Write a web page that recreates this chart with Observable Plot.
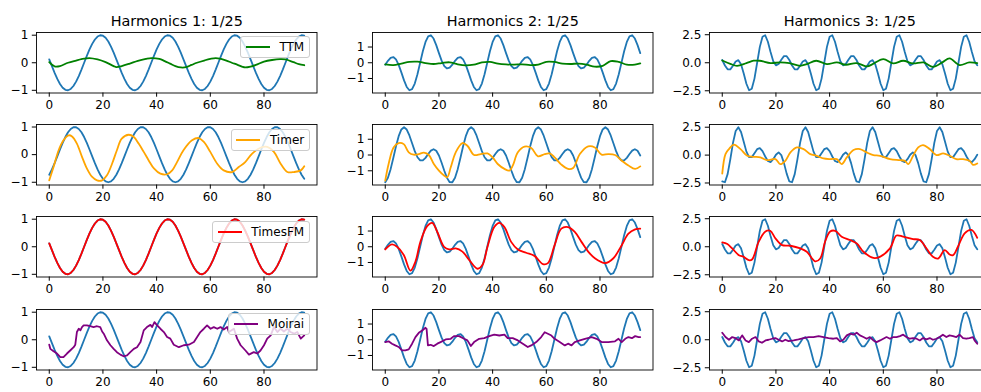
<!DOCTYPE html>
<html><head><meta charset="utf-8">
<script src="https://cdn.jsdelivr.net/npm/d3@7"></script>
<script src="https://cdn.jsdelivr.net/npm/@observablehq/plot@0.6"></script>
<style>
body{margin:0;background:#fff;}
#fig{position:relative;width:981px;height:392px;overflow:hidden;background:#fff;font-family:"DejaVu Sans",sans-serif;}
.legend{position:absolute;display:flex;align-items:center;box-sizing:border-box;height:22px;padding:0 4.8px;border:1px solid #cccccc;border-radius:3px;background:rgba(255,255,255,0.8);font-size:12px;color:#000;white-space:nowrap;}
.legend .swatch{display:inline-block;width:24px;height:2px;margin-right:9.6px;}
</style></head><body><div id="fig"></div>
<script>
const xTicks=[0,20,40,60,80];
const colTitles=["Harmonics 1: 1/25","Harmonics 2: 1/25","Harmonics 3: 1/25"];
const models=["TTM","Timer","TimesFM","Moirai"];
const modelColors=["green","orange","red","purple"];
const truthColor="#1f77b4";
const yTicksByCol=[[-1,0,1],[-1,0,1],[-2.5,0,2.5]];

// ground truth, window used in rows TTM / TimesFM / Moirai
const truthH1A=[
0.125,-0.125,-0.368,-0.588,-0.771,-0.905,-0.982,-0.998,-0.951,-0.844,-0.685,-0.482,-0.249,0,0.249,0.482,0.685,0.844,0.951,0.998,0.982,0.905,0.771,0.588,0.368,
0.125,-0.125,-0.368,-0.588,-0.771,-0.905,-0.982,-0.998,-0.951,-0.844,-0.685,-0.482,-0.249,0,0.249,0.482,0.685,0.844,0.951,0.998,0.982,0.905,0.771,0.588,0.368,
0.125,-0.125,-0.368,-0.588,-0.771,-0.905,-0.982,-0.998,-0.951,-0.844,-0.685,-0.482,-0.249,0,0.249,0.482,0.685,0.844,0.951,0.998,0.982,0.905,0.771,0.588,0.368,
0.125,-0.125,-0.368,-0.588,-0.771,-0.905,-0.982,-0.998,-0.951,-0.844,-0.685,-0.482,-0.249,0,0.249,0.482,0.685,0.844,0.951,0.998,0.982];
const truthH2A=[
-0.123,0.123,0.316,0.363,0.212,-0.134,-0.614,-1.123,-1.539,-1.749,-1.683,-1.326,-0.731,0,0.731,1.326,1.683,1.749,1.539,1.123,0.614,0.134,-0.212,-0.363,-0.316,
-0.123,0.123,0.316,0.363,0.212,-0.134,-0.614,-1.123,-1.539,-1.749,-1.683,-1.326,-0.731,0,0.731,1.326,1.683,1.749,1.539,1.123,0.614,0.134,-0.212,-0.363,-0.316,
-0.123,0.123,0.316,0.363,0.212,-0.134,-0.614,-1.123,-1.539,-1.749,-1.683,-1.326,-0.731,0,0.731,1.326,1.683,1.749,1.539,1.123,0.614,0.134,-0.212,-0.363,-0.316,
-0.123,0.123,0.316,0.363,0.212,-0.134,-0.614,-1.123,-1.539,-1.749,-1.683,-1.326,-0.731,0,0.731,1.326,1.683,1.749,1.539,1.123,0.614];
const truthH3A=[
0.245,-0.245,-0.588,-0.588,-0.270,0.114,0.230,-0.141,-0.951,-1.874,-2.453,-2.324,-1.415,0,1.415,2.324,2.453,1.874,0.951,0.141,-0.230,-0.114,0.270,0.588,0.588,
0.245,-0.245,-0.588,-0.588,-0.270,0.114,0.230,-0.141,-0.951,-1.874,-2.453,-2.324,-1.415,0,1.415,2.324,2.453,1.874,0.951,0.141,-0.230,-0.114,0.270,0.588,0.588,
0.245,-0.245,-0.588,-0.588,-0.270,0.114,0.230,-0.141,-0.951,-1.874,-2.453,-2.324,-1.415,0,1.415,2.324,2.453,1.874,0.951,0.141,-0.230,-0.114,0.270,0.588,0.588,
0.245,-0.245,-0.588,-0.588,-0.270,0.114,0.230,-0.141,-0.951,-1.874,-2.453,-2.324,-1.415,0,1.415,2.324,2.453,1.874,0.951,0.141,-0.230];
// ground truth, window used in the Timer row
const truthH1B=[
-0.729,-0.536,-0.309,-0.063,0.187,0.426,0.637,0.809,0.930,0.992,0.992,0.930,0.809,0.637,0.426,0.187,-0.063,-0.309,-0.536,-0.729,-0.876,-0.969,-1.0,-0.969,-0.876,
-0.729,-0.536,-0.309,-0.063,0.187,0.426,0.637,0.809,0.930,0.992,0.992,0.930,0.809,0.637,0.426,0.187,-0.063,-0.309,-0.536,-0.729,-0.876,-0.969,-1.0,-0.969,-0.876,
-0.729,-0.536,-0.309,-0.063,0.187,0.426,0.637,0.809,0.930,0.992,0.992,0.930,0.809,0.637,0.426,0.187,-0.063,-0.309,-0.536,-0.729,-0.876,-0.969,-1.0,-0.969,-0.876,
-0.729,-0.536,-0.309,-0.063,0.187,0.426,0.637,0.809,0.930,0.992,0.992,0.930,0.809,0.637,0.426,0.187,-0.063,-0.309,-0.536,-0.729,-0.876];
const truthH2B=[
-1.727,-1.441,-0.897,-0.188,0.556,1.196,1.620,1.760,1.614,1.241,0.743,0.245,-0.142,-0.345,-0.345,-0.181,0.063,0.279,0.369,0.269,-0.032,-0.487,-1.0,-1.450,-1.721,
-1.727,-1.441,-0.897,-0.188,0.556,1.196,1.620,1.760,1.614,1.241,0.743,0.245,-0.142,-0.345,-0.345,-0.181,0.063,0.279,0.369,0.269,-0.032,-0.487,-1.0,-1.450,-1.721,
-1.727,-1.441,-0.897,-0.188,0.556,1.196,1.620,1.760,1.614,1.241,0.743,0.245,-0.142,-0.345,-0.345,-0.181,0.063,0.279,0.369,0.269,-0.032,-0.487,-1.0,-1.450,-1.721,
-1.727,-1.441,-0.897,-0.188,0.556,1.196,1.620,1.760,1.614,1.241,0.743,0.245,-0.142,-0.345,-0.345,-0.181,0.063,0.279,0.369,0.269,-0.032];
const truthH3B=[
-2.364,-2.433,-1.706,-0.375,1.092,2.165,2.496,2.069,1.188,0.311,-0.187,-0.181,0.167,0.531,0.624,0.355,-0.124,-0.530,-0.623,-0.368,0.031,0.242,0.0,-0.721,-1.658,
-2.364,-2.433,-1.706,-0.375,1.092,2.165,2.496,2.069,1.188,0.311,-0.187,-0.181,0.167,0.531,0.624,0.355,-0.124,-0.530,-0.623,-0.368,0.031,0.242,0.0,-0.721,-1.658,
-2.364,-2.433,-1.706,-0.375,1.092,2.165,2.496,2.069,1.188,0.311,-0.187,-0.181,0.167,0.531,0.624,0.355,-0.124,-0.530,-0.623,-0.368,0.031,0.242,0.0,-0.721,-1.658,
-2.364,-2.433,-1.706,-0.375,1.092,2.165,2.496,2.069,1.188,0.311,-0.187,-0.181,0.167,0.531,0.624,0.355,-0.124,-0.530,-0.623,-0.368,0.031];

// predictions (t = time step, y = value)
const ttm1T=[0,2,4,7,10,12,15,18,21,24,25,27,30,33,36,38,41,43,45,47,49,51,53,55,58,60,62,64,66,68,70,72,73,75,77,80,83,86,88,91,93,95];
const ttm1Y=[0.02,-0.13,-0.12,0.0,0.08,0.13,0.17,0.12,0.02,-0.12,-0.16,-0.12,-0.03,0.07,0.14,0.17,0.14,0.06,-0.03,-0.12,-0.17,-0.16,-0.08,0.0,0.09,0.14,0.17,0.14,0.08,0.0,-0.07,-0.15,-0.17,-0.14,-0.08,0.04,0.1,0.13,0.12,0.02,-0.05,-0.09];
const ttm2T=[0,3,6,9,12,15,18,21,24,27,30,33,36,39,42,45,48,51,54,57,60,63,66,69,72,75,78,81,84,87,90,93,95];
const ttm2Y=[-0.1,-0.15,-0.05,0.06,0.07,-0.02,-0.08,-0.02,0.03,-0.1,-0.17,-0.12,0.02,0.05,-0.05,-0.1,-0.12,-0.1,-0.15,-0.12,0.06,0.05,-0.05,-0.08,-0.05,-0.12,-0.25,-0.2,0.1,0.05,-0.12,-0.12,-0.04];
const ttm3T=[0,3,5.5,9,11.7,14,18,21.6,25,29,31.5,35,39,42.7,46,50,54,56,60,63.7,67.4,71,75,78.5,82,84.7,88.4,92,95];
const ttm3Y=[0.2,-0.1,-0.27,-0.03,0.18,0.18,-0.03,0.03,-0.03,-0.27,-0.12,0.18,-0.12,0.03,-0.18,-0.03,-0.33,-0.12,0.33,-0.06,0.18,-0.06,0.03,-0.36,0.03,0.39,-0.21,0.03,-0.03];

const timer1T=[0,1.6,3.5,5.3,7.2,8.5,10.3,12.2,14,15.9,17.8,19.7,21.5,23.4,25.2,27,29.6,31.5,33.3,35.2,37,39,41.4,43.9,45.8,47.6,50,53.2,55.7,57.6,60,62.6,65,68.1,70.6,73,75.6,78.7,81.2,83.7,86.2,88.7,91.2,93.7,95];
const timer1Y=[-0.93,-0.45,0.16,0.52,0.7,0.66,0.4,-0.08,-0.5,-0.8,-0.93,-0.93,-0.75,-0.33,0.16,0.58,0.72,0.64,0.4,0.1,-0.2,-0.5,-0.69,-0.71,-0.57,-0.27,0.16,0.52,0.6,0.46,0.1,-0.33,-0.57,-0.63,-0.45,-0.27,0.04,0.25,0.28,0.1,-0.33,-0.63,-0.63,-0.57,-0.42];
const timer2T=[0,1.25,3.1,5,6.9,8.75,10.6,12.5,14.4,16.25,18.1,20,21.9,23.1,24.4,26.25,28.75,30.6,33.1,35.6,38.1,40,41.9,44.4,46.25,47.5,49.4,51.9,54.4,56.9,59.4,61.25,63.1,65.6,68.1,70,72.5,75.6,78.1,80.6,83.1,85.6,88.1,90.6,93.1,95];
const timer2Y=[-1.62,-0.57,0.48,0.76,0.69,0.17,0.02,0.06,0.15,0,-0.57,-0.99,-1.3,-1.41,-0.78,0.17,0.76,0.59,0,0.06,0.1,-0.15,-0.57,-0.88,-0.99,-0.67,0.17,0.53,0.44,-0.08,0.06,0.1,-0.15,-0.61,-0.88,-0.82,0.06,0.55,0.48,0.02,0.06,0,-0.36,-0.67,-0.88,-0.72];
const timer3T=[0,1.2,2.5,4.3,6.8,9.3,11.7,14.2,16.7,19.8,21.6,23.5,25.4,27.8,30.3,32.8,35.2,37.7,40.2,42.7,44.5,46.4,48.9,51.3,53.8,56.3,58.8,62.5,66.2,68,69.3,71.1,73,74.8,77.3,79.8,82.3,84.7,87.2,89.7,92.1,93.4,95];
const timer3Y=[-1.66,0.09,0.54,0.93,0.54,-0.06,-0.15,-0.21,-0.45,-0.36,-0.81,-0.51,0.24,0.69,0.54,0.09,-0.06,-0.3,-0.36,-0.36,-0.81,-0.21,0.45,0.54,0.24,0,-0.06,-0.36,-0.45,-0.51,-0.81,-0.06,0.69,0.9,0.54,0,0.15,-0.06,-0.36,-0.36,-0.51,-0.87,-0.75];

const timesfm1T=null;
const timesfm1Y=[
0.125,-0.125,-0.368,-0.588,-0.771,-0.905,-0.982,-0.998,-0.951,-0.844,-0.685,-0.482,-0.249,0,0.249,0.482,0.685,0.844,0.951,0.998,0.982,0.905,0.771,0.588,0.368,
0.125,-0.125,-0.368,-0.588,-0.771,-0.905,-0.982,-0.998,-0.951,-0.844,-0.685,-0.482,-0.249,0,0.249,0.482,0.685,0.844,0.951,0.998,0.982,0.905,0.771,0.588,0.368,
0.125,-0.125,-0.368,-0.588,-0.771,-0.905,-0.982,-0.998,-0.951,-0.844,-0.685,-0.482,-0.249,0,0.249,0.482,0.685,0.844,0.951,0.998,0.982,0.905,0.771,0.588,0.368,
0.125,-0.125,-0.368,-0.588,-0.771,-0.905,-0.982,-0.998,-0.951,-0.844,-0.685,-0.482,-0.249,0,0.249,0.482,0.685,0.844,0.951,0.998,0.982];
const timesfm2T=[0,2.5,4.4,6.9,9.4,11.25,13.1,15.6,17.5,19.4,21.9,23.75,26.25,28.75,31.25,34.4,36.25,38.1,40.6,42.5,44.4,46.9,49.4,52.5,55.6,58.75,60.6,63.1,65.6,68.1,70.6,73.1,75.6,78.1,81.9,85,88.1,90.6,93.1,95];
const timesfm2Y=[-0.17,0.15,0,-0.52,-1.52,-0.94,0.31,1.31,1.52,0.94,0,-0.17,-0.1,-0.31,-0.83,-1.4,-1.15,0,1.25,1.52,1.25,0.31,-0.17,-0.38,-0.58,-1.1,-1.04,0.1,1.15,1.25,0.94,0.31,-0.31,-0.73,-1.04,-0.73,0.1,0.83,1.1,1.15];
const timesfm3T=[0,1.9,3.7,6.2,8,9.9,11.1,13.6,16.1,17.9,19.8,22.3,25.4,29.1,31.5,34.6,36.5,38.3,40.2,42.1,44.5,47.6,50.1,52.6,56.3,58.7,62.5,64.9,67.4,71.1,73.6,76.1,78.5,80.4,82.9,84.7,86,87.8,90.3,92.8,95];
const timesfm3Y=[0.39,0.24,-0.15,-0.75,-0.9,-1.2,-1.14,0.45,1.36,1.42,0.75,0.15,0.09,-0.15,-0.45,-1.3,-1.05,0.45,1.36,1.42,0.9,0.6,0.3,-0.45,-1.0,-0.9,-0.15,1.0,0.9,0.69,0.6,-0.15,-0.9,-1.05,-0.3,-0.69,-0.75,0,1.2,1.5,0.8];

const moirai1T=[0,0.4,1.6,2.9,4.1,5.3,6.6,7.8,9.1,9.7,10.3,11,11.6,12.2,12.8,14,15.3,16.5,17.8,19,19.7,20.3,21.5,22.8,24,25.2,26.5,27.7,29,30.2,31.5,32.7,34,35.2,36.4,37.7,38.3,39.2,40.2,41.4,42.7,43.9,45.1,46.4,48.3,50.1,52,53.9,55.1,56.3,57.6,58.8,60.1,61.3,62.6,63.8,65,66.3,66.9,68.8,70,71.3,73.1,74.4,76.2,77.5,78.7,80,81.2,82.5,83.7,85,86.2,87.4,88.7,89.9,91.2,92.4,93.7,95];
const moirai1Y=[-0.18,-0.33,-0.42,-0.5,-0.63,-0.63,-0.5,-0.39,-0.27,-0.18,0.28,0.4,0.34,0.46,0.52,0.52,0.49,0.46,0.49,0.46,0.3,0.22,-0.02,-0.2,-0.33,-0.45,-0.54,-0.6,-0.57,-0.45,-0.33,-0.27,-0.08,0.34,0.46,0.54,0.46,0.64,0.52,0.4,0.28,0.1,0.04,-0.18,-0.27,-0.2,-0.18,-0.08,0.1,0.28,0.4,0.52,0.4,0.46,0.4,0.46,0.37,0.46,0.28,0.4,0.04,-0.2,-0.39,-0.54,-0.45,-0.5,-0.39,-0.2,0.04,0.16,0.46,0.28,0.4,0.3,0.4,0.28,0.22,0.28,0.04,0.16];
const moirai2T=[0,1.25,2.5,3.75,5,6.25,7.5,8.75,10,11.25,12.5,13.75,15,15.4,15.9,16.9,18.1,19.4,20.6,22.5,24.4,25.6,27.5,29.4,30.6,31.9,33.1,35,36.9,38.75,40.6,42.5,44.4,45.6,47.5,49.4,51.25,53.1,54.4,56.25,58.1,59.4,60.6,61.9,63.1,65,66.9,68.1,69.4,70.6,72.5,74.4,76.9,78.75,80.6,83.1,85.6,86.9,88.1,89.4,90.6,91.9,93.1,94.4,95];
const moirai2Y=[-0.15,-0.1,-0.25,-0.36,-0.46,-0.67,-0.67,-0.61,-0.25,0.17,0.44,0.59,0.76,0.69,-0.36,-0.32,-0.4,-0.25,-0.15,0.02,0.06,0.23,0.23,0.06,-0.04,-0.4,-0.15,0.06,0.1,0.23,0.32,0.27,0.32,0.1,0.1,-0.04,-0.25,-0.46,-0.36,-0.15,0.17,0.48,0.38,0.27,0.06,-0.15,-0.36,-0.25,-0.36,-0.15,-0.04,0.06,0.17,0.06,-0.15,-0.15,-0.1,0.06,-0.15,0.06,0.17,0.1,0.23,0.17,0.17];
const moirai3T=[0,1.2,2.5,3.7,4.9,6.2,7.4,8.7,9.9,11.1,12.4,13.6,14.8,16.1,17.3,18.6,19.8,21,22.3,23.5,24.7,26.6,28.4,30.3,32.2,34,35.9,37.7,39.6,41.4,42.7,43.9,45.1,46.4,47.6,48.9,50.1,51.3,52.6,53.8,55,56.3,57.5,58.8,60,61.2,62.5,63.7,64.9,66.2,67.4,68.6,69.9,71.1,72.4,73.6,74.8,76.1,77.3,78.5,79.8,81,82.2,83.5,84.7,86,87.2,88.4,89.7,90.9,92.1,93.4,94,95];
const moirai3Y=[0.63,0.24,0,0.24,0.15,-0.06,0.39,-0.06,-0.21,0.09,0.24,-0.15,-0.27,-0.06,0,0.09,0.15,0,-0.15,0,-0.12,-0.06,0.03,0.15,0.24,0.24,0.33,0.24,0.15,0.09,0.15,-0.15,0,0.39,0.54,0.45,0.63,0.39,0.24,0.09,0.24,-0.06,-0.21,-0.06,0.09,0.24,0.09,0.24,0.24,0.33,0.45,0.24,0.09,0.15,0.09,-0.06,0.15,0.03,0.15,0,0.09,0.24,0.45,0.24,0.39,0.33,0.24,0.45,0.15,0.09,0.15,0.24,-0.06,-0.36];

// assemble
const truthA=[truthH1A,truthH2A,truthH3A], truthB=[truthH1B,truthH2B,truthH3B];
const preds=[
  [[ttm1T,ttm1Y],[ttm2T,ttm2Y],[ttm3T,ttm3Y]],
  [[timer1T,timer1Y],[timer2T,timer2Y],[timer3T,timer3Y]],
  [[timesfm1T,timesfm1Y],[timesfm2T,timesfm2Y],[timesfm3T,timesfm3Y]],
  [[moirai1T,moirai1Y],[moirai2T,moirai2Y],[moirai3T,moirai3Y]]
];

const W=280.5,H=60.5,ML=45,MR=5,MT=26,MB=24;
const axLeft=[35.5,372.3,709.3], axTop=[31.7,124.2,216.4,308.8];
const fig=document.getElementById("fig");
const minus=v=>(v<0?"\u2212":"");

for(let r=0;r<4;r++){
  for(let c=0;c<3;c++){
    const truth=r===1?truthB[c]:truthA[c];
    const [pt,py]=preds[r][c];
    const all=truth.concat(py);
    const lo=d3.min(all), hi=d3.max(all), pad=(hi-lo)*0.05;
    const fmt=c===2?(d=>minus(d)+Math.abs(d).toFixed(1)):(d=>minus(d)+Math.abs(d));
    const smooth=r<3 && pt!==null;
    const predMark=pt===null
      ? Plot.lineY(py,{stroke:modelColors[r],strokeWidth:1.8})
      : Plot.line(py,{x:pt,y:py,stroke:modelColors[r],strokeWidth:1.8,curve:smooth?"catmull-rom":"linear"});
    const marks=[
      Plot.lineY(truth,{stroke:truthColor,strokeWidth:1.8}),
      predMark,
      Plot.frame({stroke:"#000",strokeWidth:0.9}),
      Plot.axisX({ticks:xTicks,tickSize:4.2,tickPadding:3.5,tickFormat:d=>String(d),label:null}),
      Plot.axisY({ticks:yTicksByCol[c],tickSize:4.2,tickPadding:4,tickFormat:fmt,label:null})
    ];
    if(r===0) marks.push(Plot.text([colTitles[c]],{frameAnchor:"top",lineAnchor:"bottom",dy:-7,fontSize:14.4,fill:"#000"}));
    const svg=Plot.plot({
      width:ML+W+MR,height:MT+H+MB,marginLeft:ML,marginRight:MR,marginTop:MT,marginBottom:MB,
      x:{domain:[-4.75,99.75]},y:{domain:[lo-pad,hi+pad]},
      style:{fontFamily:"'DejaVu Sans', sans-serif",fontSize:"12px",background:"transparent",color:"#000",overflow:"visible"},
      marks
    });
    svg.style.position="absolute";
    svg.style.left=(axLeft[c]-ML)+"px";
    svg.style.top=(axTop[r]-MT)+"px";
    fig.appendChild(svg);
    if(c===0){
      const lg=document.createElement("div");
      lg.className="legend";
      lg.style.right=(981-(axLeft[c]+W-6))+"px";
      lg.style.top=(axTop[r]+4.5)+"px";
      const sw=document.createElement("span");
      sw.className="swatch"; sw.style.background=modelColors[r];
      const tx=document.createElement("span"); tx.textContent=models[r];
      lg.appendChild(sw); lg.appendChild(tx);
      fig.appendChild(lg);
    }
  }
}
</script></body></html>
